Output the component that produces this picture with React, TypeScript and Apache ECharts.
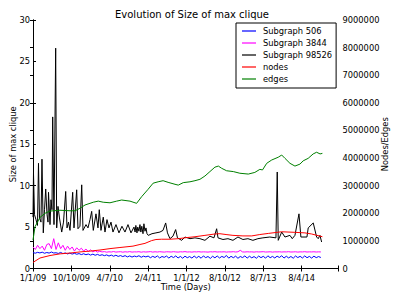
import React, { useEffect, useRef } from 'react';
import * as echarts from 'echarts';

const FONT = 'DejaVu Sans';

const xTickLabels = ['1/1/09', '10/10/09', '4/7/10', '2/4/11', '1/1/12', '8/10/12', '8/7/13', '8/4/14'];
const seriesNames = ['Subgraph 506', 'Subgraph 3844', 'Subgraph 98526', 'nodes', 'edges'];
const seriesColors = ['#0000ff', '#ff00ff', '#000000', '#ff0000', '#008000'];

// uniformly sampled series (one value every `sampleStep` days)
const sampleStep = 6;
const sub506 = [
  1.92, 1.85, 1.95, 1.88, 1.97, 1.84, 1.93, 1.86, 1.99, 1.87,
  1.9, 1.82, 1.94, 1.8, 1.88, 1.76, 1.86, 1.74, 1.83, 1.72,
  1.8, 1.68, 1.78, 1.66, 1.75, 1.62, 1.73, 1.6, 1.7, 1.58,
  1.66, 1.55, 1.64, 1.5, 1.62, 1.48, 1.6, 1.46, 1.56, 1.44,
  1.55, 1.4, 1.52, 1.38, 1.5, 1.42, 1.54, 1.36, 1.49, 1.4,
  1.5, 1.3, 1.47, 1.33, 1.52, 1.27, 1.45, 1.35, 1.5, 1.26,
  1.48, 1.32, 1.52, 1.27, 1.46, 1.24, 1.49, 1.3, 1.44, 1.26,
  1.5, 1.28, 1.47, 1.24, 1.52, 1.31, 1.45, 1.22, 1.48, 1.29,
  1.51, 1.27, 1.46, 1.33, 1.57, 1.25, 1.47, 1.3, 1.49, 1.23,
  1.45, 1.32, 1.52, 1.26, 1.48, 1.29, 1.44, 1.24, 1.5, 1.31,
  1.47, 1.25, 1.53, 1.3, 1.46, 1.27, 1.49, 1.33, 1.54, 1.26,
  1.48, 1.28, 1.45, 1.24, 1.51, 1.32, 1.47, 1.27, 1.52, 1.3,
  1.46, 1.26, 1.49, 1.31, 1.44, 1.33,
];
const sub3844 = [
  2.6, 2.3, 2.8, 2.4, 2.7, 2.2, 2.9, 3.0, 2.4, 3.6,
  2.3, 3.1, 2.4, 2.8, 2.2, 2.7, 2.3, 2.6, 2.1, 2.5,
  2.2, 2.45, 2.1, 2.35, 2.05, 2.25, 2.0, 2.15, 1.98, 2.08,
  2.0, 2.04, 1.97, 2.02, 1.99, 2.05, 1.98, 2.01, 2.03, 1.97,
  2.02, 1.99, 2.04, 1.98, 2.01, 2.0, 2.03, 1.97, 2.02, 1.99,
  2.01, 2.04, 1.98, 2.02, 1.99, 2.03, 2.0, 1.98, 2.02, 2.01,
  1.99, 2.03, 2.0, 1.98, 2.02, 2.0, 2.04, 1.99, 2.01, 1.98,
  2.02, 2.0, 2.03, 1.99, 2.01, 2.0, 1.98, 2.02, 2.0, 2.03,
  1.99, 2.01, 2.0, 2.02, 1.98, 2.01, 2.0, 2.03, 1.99, 2.02,
  2.2, 2.0, 1.99, 2.02, 2.0, 2.01, 1.98, 2.02, 2.0, 2.01,
  2.03, 1.99, 2.0, 2.02, 1.98, 2.01, 2.0, 2.02, 1.99, 2.01,
  2.0, 2.03, 1.99, 2.0, 2.02, 1.98, 2.01, 2.0, 2.03, 1.99,
  2.01, 2.0, 2.02, 1.99, 2.01, 2.0,
];

// [day, size of max clique]
const sub98526: [number, number][] = [
  [0, 6.2], [1.3, 11.5], [3.9, 6.5], [7.8, 5.9], [11.7, 5.2], [14.3, 12.7], [16.9, 6.1], [20.8, 5.6],
  [23.4, 13.2], [26.8, 4.3], [30, 7.1], [33.1, 9.6], [36.5, 6.5], [39.1, 5.6], [40.4, 9.2], [44.3, 5.3],
  [46.9, 8.3], [49.5, 7.1], [51.3, 18.3], [54.7, 5.3], [59.1, 26.6], [61.7, 4.9], [65.1, 7.5], [69, 6.1],
  [74.8, 4.4], [79.5, 5.6], [85.2, 9.3], [88.6, 4.9], [92.5, 5.6], [96.4, 4.6], [103.4, 9.2], [106.8, 4.9],
  [113.8, 9.5], [117.2, 4.8], [122.4, 5.1], [126.9, 10.1], [130.3, 4.6], [138.1, 5.3], [143.3, 4.9], [148.5, 5.9],
  [152.9, 6.9], [157.1, 4.6], [164.1, 6.6], [169.3, 4.9], [172.7, 7.1], [177.1, 4.6], [183.1, 6.2], [187.6, 4.4],
  [192.8, 5.9], [198, 4.9], [203.2, 5.6], [208.4, 4.4], [216.2, 5.3], [224, 4.3], [231.8, 5.1], [239.7, 4.4],
  [247.5, 5.3], [255.3, 4.3], [263.1, 5.0], [266, 4.4], [268, 5.2], [270.9, 4.3], [273, 5.0], [276, 4.5],
  [278.7, 5.3], [281, 4.4], [283.5, 5.1], [286.6, 4.2], [289, 5.4], [291.8, 4.5], [294.4, 4.9], [297, 4.2],
  [300.4, 4.0], [310, 4.2], [320.4, 4.3], [330.8, 4.4], [338.7, 4.6], [345.7, 5.5], [350.4, 4.3], [356.9, 3.6],
  [364.7, 3.9], [371.7, 4.7], [376.4, 3.7], [387.4, 3.4], [396, 3.8], [409, 3.6], [422, 3.7], [435, 3.6],
  [448, 3.4], [461, 3.9], [471.5, 3.7], [478.5, 4.8], [482, 3.7], [495, 3.5], [508, 3.6], [521, 3.4],
  [534, 3.8], [547, 3.5], [560, 3.6], [573, 3.4], [586, 3.6], [599, 3.7], [617, 3.8], [633, 3.7],
  [636.4, 11.65], [639, 3.4], [648, 4.4], [656.5, 3.8], [669.5, 4.0], [675.5, 3.6], [682.5, 4.0], [693, 6.6],
  [698, 3.8], [713.8, 3.8], [717.1, 4.9], [730.2, 5.5], [739, 3.8], [743.2, 3.6], [747.6, 4.0], [752, 3.2],
];

// [day, count]
const nodes: [number, number][] = [
  [0, 220000], [18.2, 380000], [44.3, 470000], [70.3, 530000], [96.4, 560000], [122.4, 600000],
  [148.5, 630000], [174.5, 670000], [200.6, 720000], [226.6, 760000], [260.5, 810000], [278.7, 870000],
  [291.8, 910000], [309, 1010000], [320.4, 1050000], [335, 1060000], [357, 1060000], [378.5, 1080000],
  [401, 1120000], [422, 1150000], [448, 1200000], [474, 1250000], [487, 1260000], [503, 1230000],
  [521, 1200000], [547, 1180000], [570, 1180000], [591, 1230000], [613, 1270000], [648, 1330000],
  [682.5, 1310000], [708.5, 1290000], [726, 1250000], [740, 1200000], [754, 1150000],
];
const edges: [number, number][] = [
  [0, 1030000], [5.2, 1510000], [18.2, 1850000], [31.3, 2000000], [44.3, 2080000], [70.3, 2110000],
  [96.4, 2090000], [109.4, 2090000], [122.4, 2180000], [135.5, 2300000], [157, 2400000], [170, 2440000],
  [183, 2400000], [200.6, 2380000], [218, 2440000], [231, 2480000], [252.7, 2440000], [270, 2360000],
  [283, 2600000], [300, 2870000], [313, 3090000], [326, 3140000], [339, 3180000], [352, 3120000],
  [370, 3050000], [378.5, 3020000], [391.5, 3110000], [409, 3140000], [422, 3180000], [435, 3230000],
  [448, 3350000], [461, 3510000], [474, 3670000], [483, 3710000], [491.5, 3630000], [504.5, 3540000],
  [522, 3510000], [539, 3450000], [561, 3420000], [578, 3480000], [591, 3590000], [598, 3570000],
  [609, 3810000], [622, 3930000], [639, 4030000], [648, 4110000], [656.5, 3990000], [669.5, 3810000],
  [682.5, 3710000], [695.5, 3780000], [704, 3900000], [717, 3990000], [730, 4150000], [739, 4210000],
  [748, 4150000], [754, 4170000],
];

const X_MAX = 796;
const X_STEP = 100;

export default function App() {
  const ref = useRef<HTMLDivElement>(null);
  useEffect(() => {
    document.body.style.margin = '0';
    const chart = echarts.init(ref.current!, null, { renderer: 'svg' });
    const txt = { color: '#000', fontFamily: FONT, fontSize: 8.3 };
    const axisLine = { show: true, lineStyle: { color: '#000', width: 1 } };
    const tick = { show: true, inside: true, length: 3, lineStyle: { color: '#000', width: 1 } };
    const line = (name: string, idx: number, data: number[][], yAxisIndex: number) => ({
      name,
      type: 'line',
      yAxisIndex,
      data,
      symbol: 'none',
      showSymbol: false,
      lineStyle: { color: seriesColors[idx], width: 1 },
      itemStyle: { color: seriesColors[idx] },
      emphasis: { disabled: true },
    });
    chart.setOption({
      animation: false,
      backgroundColor: '#fff',
      title: {
        text: 'Evolution of Size of max clique',
        left: 110,
        top: 4,
        textStyle: { color: '#000', fontFamily: FONT, fontSize: 10, fontWeight: 'normal' },
      },
      grid: { left: 33, top: 20, right: 60.5, bottom: 30.5, outerBoundsMode: 'none' },
      legend: {
        orient: 'vertical',
        left: 236,
        top: 23,
        padding: [3, 4, 4, 6],
        itemGap: 2,
        itemWidth: 14,
        itemHeight: 1.2,
        icon: 'rect',
        borderColor: '#000',
        borderWidth: 1,
        selectedMode: false,
        backgroundColor: '#fff',
        textStyle: { ...txt, lineHeight: 10, padding: [0, 0, 0, 2] },
        data: seriesNames.map((name, i) => ({ name, itemStyle: { color: seriesColors[i] } })),
      },
      xAxis: [
        {
          type: 'value',
          position: 'bottom',
          min: 0,
          max: X_MAX,
          interval: X_STEP,
          axisLine,
          axisTick: tick,
          splitLine: { show: false },
          axisLabel: {
            ...txt,
            lineHeight: 8,
            margin: 5,
            formatter: (v: number) => xTickLabels[Math.round(v / X_STEP)] ?? '',
          },
          name: 'Time (Days)',
          nameLocation: 'middle',
          nameGap: 14.5,
          nameMoveOverlap: false,
          nameTextStyle: { ...txt, lineHeight: 8 },
        },
        {
          type: 'value',
          position: 'top',
          min: 0,
          max: X_MAX,
          interval: X_STEP,
          axisLine,
          axisTick: tick,
          splitLine: { show: false },
          axisLabel: { show: false },
        },
      ],
      yAxis: [
        {
          type: 'value',
          position: 'left',
          min: 0,
          max: 30,
          interval: 5,
          axisLine,
          axisTick: tick,
          splitLine: { show: false },
          axisLabel: { ...txt, lineHeight: 8, margin: 3 },
          name: 'Size of max clique',
          nameLocation: 'middle',
          nameRotate: 90,
          nameGap: 16,
          nameMoveOverlap: false,
          nameTextStyle: txt,
        },
        {
          type: 'value',
          position: 'right',
          min: 0,
          max: 9000000,
          interval: 1000000,
          axisLine,
          axisTick: tick,
          splitLine: { show: false },
          axisLabel: { ...txt, lineHeight: 8, margin: 4, formatter: (v: number) => String(v) },
          name: 'Nodes/Edges',
          nameLocation: 'middle',
          nameRotate: 90,
          nameGap: 42,
          nameMoveOverlap: false,
          nameTextStyle: txt,
        },
      ],
      series: [
        line(seriesNames[0], 0, sub506.map((v, i) => [i * sampleStep, v]), 0),
        line(seriesNames[1], 1, sub3844.map((v, i) => [i * sampleStep, v]), 0),
        line(seriesNames[2], 2, sub98526, 0),
        line(seriesNames[3], 3, nodes, 1),
        line(seriesNames[4], 4, edges, 1),
      ],
    });
    return () => chart.dispose();
  }, []);
  return <div ref={ref} style={{ width: 399, height: 299 }} />;
}
